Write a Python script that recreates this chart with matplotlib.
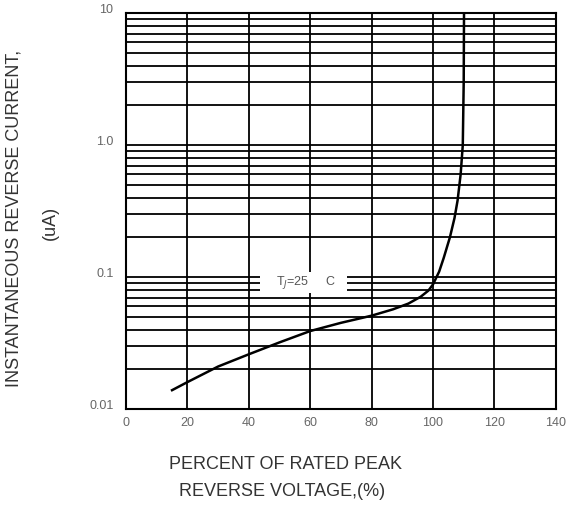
import matplotlib.pyplot as plt
import matplotlib.transforms as mtransforms
from matplotlib.patches import Rectangle
from matplotlib.ticker import LogLocator, NullFormatter

plt.rcParams["font.family"] = ["Liberation Sans", "DejaVu Sans"]

# reverse characteristic, Tj = 25 C
pct_voltage = [15, 20, 30, 40, 50, 60, 70, 80, 87, 92, 96, 98.5, 100, 102, 103.5,
               105.5, 107, 108, 109, 109.7, 110, 110.1]
rev_current = [0.0139, 0.016, 0.021, 0.026, 0.032, 0.039, 0.045, 0.051, 0.057, 0.063,
               0.071, 0.079, 0.088, 0.11, 0.14, 0.2, 0.28, 0.38, 0.6, 1.0, 3.0, 10.0]

x_ticks = [0, 20, 40, 60, 80, 100, 120, 140]
y_ticks = [0.01, 0.1, 1.0, 10]
y_tick_labels = ["0.01", "0.1", "1.0", "10"]

fig = plt.figure(figsize=(5.82, 5.05), dpi=100)
ax = fig.add_axes([0.2165, 0.190, 0.7385, 0.784])

ax.set_yscale("log")
ax.set_xlim(0, 140)
ax.set_ylim(0.01, 10)

ax.plot(pct_voltage, rev_current, color="black", linewidth=1.8, zorder=4)

# grid: verticals every 20, horizontals on every log subdivision
ax.set_xticks(x_ticks)
ax.set_yticks(y_ticks)
ax.set_yticklabels(y_tick_labels)
ax.yaxis.set_minor_locator(LogLocator(base=10, subs=range(2, 10)))
ax.yaxis.set_minor_formatter(NullFormatter())
ax.grid(True, which="both", axis="y", color="black", linewidth=1.3)
ax.grid(True, which="major", axis="x", color="black", linewidth=1.3)
ax.tick_params(which="both", length=0, labelsize=9, labelcolor="#666666")
ax.tick_params(axis="x", pad=6)
ax.tick_params(axis="y", pad=9)
for s in ax.spines.values():
    s.set_linewidth(1.5)

# nudge y labels up a bit like the original
shift = mtransforms.ScaledTranslation(0, 5 / 100, fig.dpi_scale_trans)
for lab in ax.get_yticklabels():
    lab.set_transform(lab.get_transform() + shift)

# white label box over the grid
ax.add_patch(Rectangle((43.6, 0.0756), 28.4, 0.109 - 0.0756, facecolor="white",
                       edgecolor="none", zorder=3))
ax.text(58.5, 0.0905, "T$_J$=25     C", ha="center", va="center", fontsize=9,
        color="#555555", zorder=5)

fig.text(0.024, 0.568, "INSTANTANEOUS REVERSE CURRENT,", rotation=90, ha="center",
         va="center", fontsize=13, color="#333333")
fig.text(0.086, 0.558, "(uA)", rotation=90, ha="center", va="center",
         fontsize=13, color="#333333")
fig.text(0.490, 0.081, "PERCENT OF RATED PEAK", ha="center", va="center",
         fontsize=13, color="#333333")
fig.text(0.484, 0.026, "REVERSE VOLTAGE,(%)", ha="center", va="center",
         fontsize=13, color="#333333")

fig.savefig("out.png", dpi=100)
